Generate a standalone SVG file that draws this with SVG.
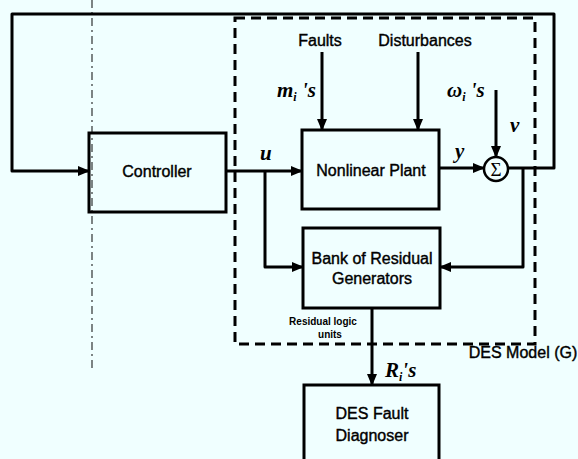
<svg xmlns="http://www.w3.org/2000/svg" width="578" height="459" viewBox="0 0 578 459">
<defs>
<marker id="ah" markerWidth="12" markerHeight="10" refX="11" refY="5" orient="auto" markerUnits="userSpaceOnUse">
<path d="M0,0 L12,5 L0,10 Z" fill="#000"/>
</marker>
<style>
.box{fill:none;stroke:#000;stroke-width:3}
.ln{fill:none;stroke:#000;stroke-width:3;stroke-linejoin:round}
.lbl{font-family:"Liberation Sans",Arial,sans-serif;font-size:16px;fill:#000;stroke:#000;stroke-width:0.4;text-anchor:middle}
.math{font-family:"Liberation Serif","Times New Roman",serif;font-style:italic;font-weight:bold;font-size:21px;fill:#000}
.small{font-family:"Liberation Sans",Arial,sans-serif;font-size:10px;font-weight:bold;fill:#000;text-anchor:middle}
</style>
</defs>
<rect width="578" height="459" fill="#F0FFFF"/>
<line x1="92" y1="0" x2="92" y2="370" stroke="#000" stroke-width="1.2" stroke-dasharray="8 4 2 4" opacity="0.8"/>
<rect id="des-model" x="235" y="18" width="300" height="326" fill="none" stroke="#000" stroke-width="3" stroke-dasharray="10 6"/>
<text class="lbl" x="523" y="358">DES Model (G)</text>
<g id="connectors">
<path class="ln" d="M508,168 H554 V14 H12 V171 H89" marker-end="url(#ah)"/>
<path class="ln" d="M226,171 H302" marker-end="url(#ah)"/>
<path class="ln" d="M265,171 V267 H303" marker-end="url(#ah)"/>
<path class="ln" d="M439,168 H484" marker-end="url(#ah)"/>
<path class="ln" d="M523,168 V267 H440" marker-end="url(#ah)"/>
<path class="ln" d="M322,52 V130" marker-end="url(#ah)"/>
<path class="ln" d="M418,52 V130" marker-end="url(#ah)"/>
<path class="ln" d="M496,90 V157" marker-end="url(#ah)"/>
<path class="ln" d="M372,308 V385" marker-end="url(#ah)"/>
</g>
<g id="controller">
<rect class="box" x="89" y="133" width="137" height="79"/>
<text class="lbl" x="157" y="177">Controller</text>
</g>
<g id="plant">
<rect class="box" x="302" y="130" width="137" height="79"/>
<text class="lbl" x="371" y="176">Nonlinear Plant</text>
</g>
<g id="bank">
<rect class="box" x="303" y="228" width="137" height="80"/>
<text class="lbl" x="372" y="264">Bank of Residual</text>
<text class="lbl" x="372" y="284">Generators</text>
</g>
<g id="diagnoser">
<rect class="box" x="304" y="385" width="135" height="90"/>
<text class="lbl" x="372" y="419">DES Fault</text>
<text class="lbl" x="372" y="441">Diagnoser</text>
</g>
<g id="sum">
<circle cx="496" cy="169" r="12" fill="none" stroke="#000" stroke-width="2.5"/>
<text x="496" y="176" font-family="Liberation Serif,serif" font-size="19" text-anchor="middle" fill="#000">Σ</text>
</g>
<g id="labels">
<text class="lbl" x="320" y="46">Faults</text>
<text class="lbl" x="425" y="46">Disturbances</text>
<text class="math" x="277" y="97">m<tspan font-size="12" dy="4">i</tspan><tspan dy="-4"> 's</tspan></text>
<text class="math" x="447" y="97">ω<tspan font-size="12" dy="4">i</tspan><tspan dy="-4"> 's</tspan></text>
<text class="math" x="510" y="132">ν</text>
<text class="math" x="455" y="158">y</text>
<text class="math" x="260" y="160">u</text>
<text class="math" x="385" y="377">R<tspan font-size="12" dy="4">i</tspan><tspan dy="-4">'s</tspan></text>
<text class="small" x="323" y="325">Residual logic</text>
<text class="small" x="330" y="338">units</text>
</g>
</svg>
